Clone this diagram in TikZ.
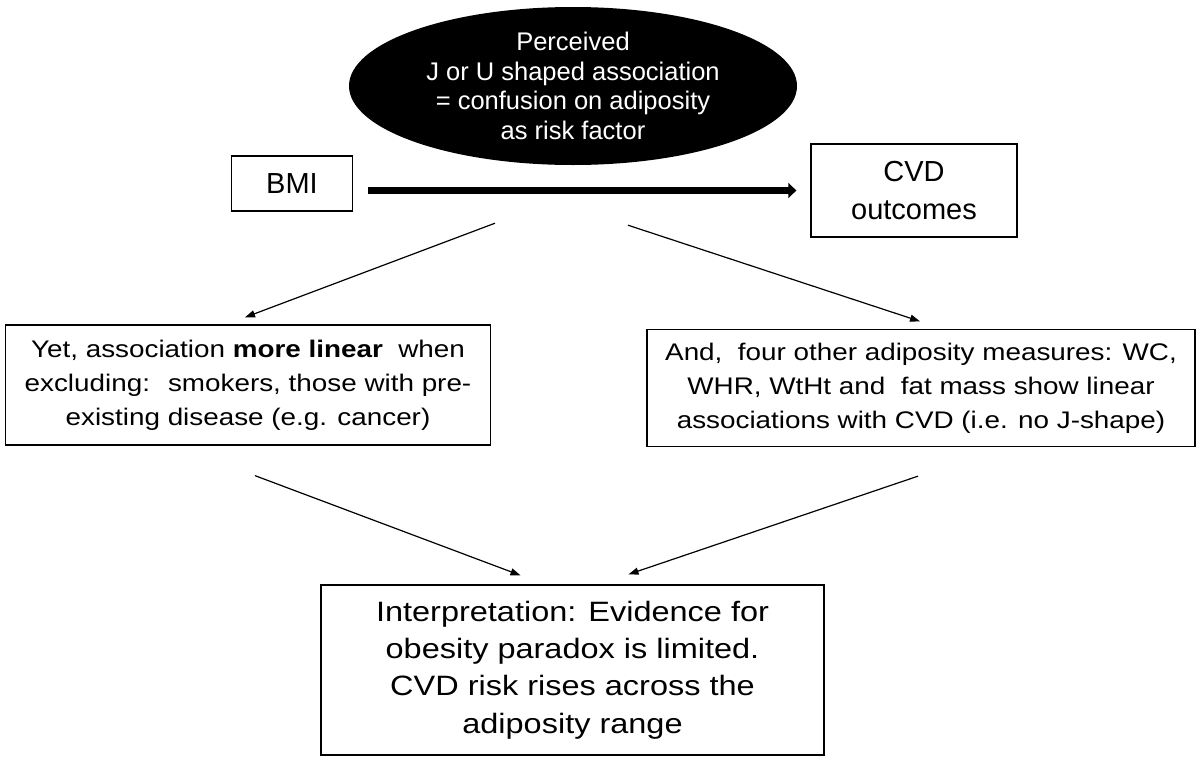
\documentclass[tikz,border=0pt]{standalone}
\usepackage{fontspec}
\setmainfont{Liberation Sans}
\newfontfamily\widefont[FakeStretch=1.16]{Liberation Sans}
\usetikzlibrary{shapes.geometric,arrows.meta}

\begin{document}
\begin{tikzpicture}[
    x=1pt, y=-1pt,
    box/.style={
      draw,
      line width=1.3pt,
      align=center,
      inner sep=0,
    },
    link/.style={
      line width=1.2pt,
      -{Triangle[length=10pt,width=7pt]},
    },
  ]
  \useasboundingbox (0,0) rectangle (1200,761);

  \node[
    ellipse,
    fill=black,
    text=white,
    minimum width=448pt,
    minimum height=158pt,
    inner sep=0,
    align=center,
    font=\fontsize{25.5}{29.5}\selectfont,
  ] (perc) at (573,86) {Perceived\\J or U shaped association\\= confusion on adiposity\\as risk factor};

  \node[
    box,
    minimum width=121pt,
    minimum height=55pt,
    font=\fontsize{29}{35}\selectfont,
  ] (bmi) at (292,183.5) {BMI};

  \node[
    box,
    minimum width=206pt,
    minimum height=93pt,
    font=\fontsize{29}{38}\selectfont,
  ] (cvd) at (914,190.5) {CVD\\outcomes};

  \node[
    box,
    minimum width=485pt,
    minimum height=120pt,
    font=\widefont\fontsize{24}{34}\selectfont,
  ] (yet) at (248,385) {Yet, association \textbf{more linear}~ when\\excluding:~ smokers, those with pre-\\existing disease (e.g. cancer)};

  \node[
    box,
    minimum width=548pt,
    minimum height=117pt,
    font=\widefont\fontsize{24}{34}\selectfont,
  ] (and) at (921,388) {And,~ four other adiposity measures: WC,\\WHR, WtHt and~ fat mass show linear\\associations with CVD (i.e. no J-shape)};

  \node[
    box,
    minimum width=503pt,
    minimum height=170pt,
    font=\widefont\fontsize{28}{37.3}\selectfont,
  ] (interp) at (572.5,670) {Interpretation: Evidence for\\obesity paradox is limited.\\CVD risk rises across the\\adiposity range};

  \draw[
    line width=7pt,
    -{Triangle[length=8pt,width=15pt]},
    shorten <=15pt,
    shorten >=14pt,
  ] (bmi.east |- cvd.west) -- (cvd.west);

  \draw[link] ([xshift=-78pt,yshift=-58pt]perc.south) -- ([xshift=-3pt,yshift=7pt]yet.north);
  \draw[link] ([xshift=55pt,yshift=-60pt]perc.south) -- ([xshift=-1pt,yshift=7.5pt]and.north);
  \draw[link] ([xshift=7pt,yshift=-30pt]yet.south) -- ([xshift=-52pt,yshift=9pt]interp.north);
  \draw[link] ([xshift=-3pt,yshift=-29pt]and.south) -- ([xshift=56pt,yshift=10pt]interp.north);

\end{tikzpicture}
\end{document}
